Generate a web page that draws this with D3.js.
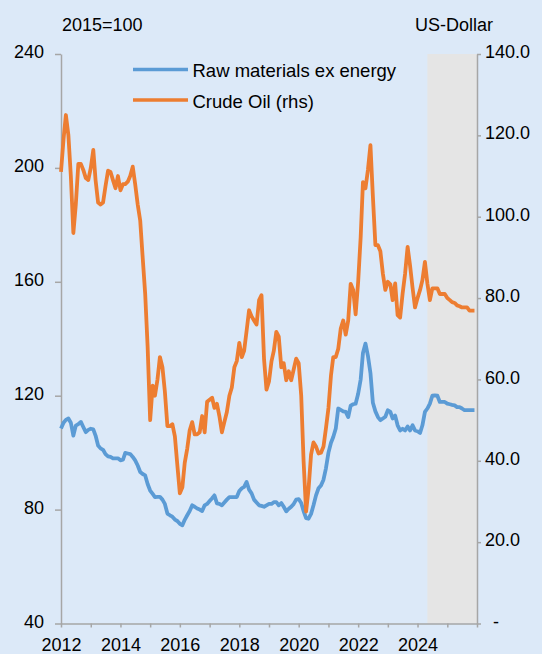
<!DOCTYPE html>
<html>
<head>
<meta charset="utf-8">
<script src="https://cdn.jsdelivr.net/npm/d3@7"></script>
<style>
	body { margin: 0; background: #dce9f8; }
	svg text { font-family: "Liberation Sans", Arial, sans-serif; font-size: 18px; fill: #000; }
</style>
</head>
<body>
<div id="chart"></div>
<script>
///////////////////////////////////////////////////////////////////////////
//////////////////////////// data /////////////////////////////////////////
///////////////////////////////////////////////////////////////////////////

const startYear = 2012;
const forecastStart = new Date(2024, 4, 1);

// monthly, Jan 2012 - Dec 2025, index 2015=100
const rawMaterials = [
	108.5, 110.5, 111.5, 112, 110.5, 106, 109.5, 110, 110.8, 109, 107.2, 108,
	108.4, 108.2, 106, 102.5, 101.5, 101, 99.5, 98.7, 98.5, 98, 98, 98,
	97.3, 97.5, 99.9, 99.7, 99.5, 98.5, 97.3, 95.5, 93.2, 92.5, 92, 89,
	86.7, 85.5, 84.4, 84.5, 84.5, 83.5, 82, 78.6, 78, 77.5, 76.5, 76,
	75, 74.5, 76.4, 78, 79.5, 81.5, 81, 80.4, 80, 79.5, 81.5, 82,
	83, 84, 85, 82.2, 82, 81.5, 82.5, 83.5, 84.4, 84.4, 84.4, 84.4,
	86.5, 87.5, 88, 89.7, 87, 85.7, 83.5, 82.5, 81.5, 81.3, 81, 81.5,
	82, 82, 82.6, 82.6, 81.5, 82.3, 81, 79.4, 80.3, 81, 82, 83.5,
	83.7, 82.3, 79.5, 77, 76.8, 78.5, 81.5, 85, 87.5, 88.5, 90.5, 94.5,
	100, 103.5, 105.5, 108.5, 115.5, 115, 114.5, 114.3, 112.5, 116.5, 117, 117.2,
	120.7, 125.7, 135, 138.3, 134, 128, 117.5, 114.5, 112.5, 111.4, 112, 112.6,
	114.9, 114.3, 112, 113, 109.6, 107.8, 108.4, 107.8, 109.2, 107.8, 109.6, 107.8,
	107.5, 106.9, 109.6, 114.3, 115.5, 117.2, 120, 120.1, 120, 117.8, 117.8, 117.8,
	117.2, 117, 116.8, 116.6, 116, 116, 115.5, 114.9, 114.9, 114.9, 114.9, 114.9
];

// monthly, Jan 2012 - Dec 2025, US-Dollar per barrel (rhs)
const crudeOil = [
	111, 119, 125, 120, 110, 96, 103, 113, 113, 111.5, 109.5, 109,
	112, 116.4, 109, 103.5, 103, 103.5, 107.5, 111.3, 111, 109, 107, 110,
	106.5, 108, 108, 108.6, 110, 112.3, 108, 103, 99, 90, 81, 68,
	50, 58.5, 56, 60, 65.5, 63, 57, 48.5, 48.5, 49, 46, 39,
	32, 33.5, 39.5, 43, 47.5, 49.5, 46.5, 46.5, 47, 51, 47, 54.5,
	55, 55.5, 53, 54, 51, 47, 49.5, 52, 56, 58, 63, 64.5,
	69, 65.5, 67, 72, 77, 75.5, 74.5, 73.5, 79.5, 80.7, 65, 57.5,
	59.5, 64.5, 67, 71.7, 70.5, 63, 64, 59.8, 62, 59.8, 62.5, 65.1,
	64, 56, 40, 27.5, 33, 41.5, 44.5, 43.5, 41.8, 42, 43.5, 48,
	53, 61, 65.5, 65.5, 67.5, 72.5, 74.5, 71, 74.5, 83.5, 82, 76,
	84, 95, 108.5, 107, 111.5, 117.6, 105, 93, 93, 91.5, 86, 82,
	84, 83.4, 79.5, 83.6, 75.8, 75.2, 81, 86, 92.6, 88, 82.5, 77.7,
	80, 82, 84.4, 88.9, 83.6, 79.5, 82.4, 82.4, 82.4, 81, 81, 81,
	80, 79.5, 79, 78.8, 78.2, 78, 77.7, 77.7, 77.7, 76.9, 76.9, 76.9
];

const seriesNames = ["Raw materials ex energy", "Crude Oil (rhs)"];
const leftTicks = [40, 80, 120, 160, 200, 240];
const rightTicks = [0, 20, 40, 60, 80, 100, 120, 140];

const months = rawMaterials.map((d, i) => new Date(startYear, i, 1));

///////////////////////////////////////////////////////////////////////////
//////////////////////////// Set up svg ///////////////////////////////////
///////////////////////////////////////////////////////////////////////////

const width = 542;
const height = 654;
const margin = { top: 54, right: 65, bottom: 30.5, left: 61 };
const blue = "#5b9bd5";
const orange = "#ed7d31";
const axisGrey = "#a6a6a6";

const svg = d3
	.select("#chart")
	.append("svg")
	.attr("width", width)
	.attr("height", height);

svg.append("rect")
	.attr("width", width)
	.attr("height", height)
	.attr("fill", "#dce9f8");

///////////////////////////////////////////////////////////////////////////
//////////////////////////// scales ///////////////////////////////////////
///////////////////////////////////////////////////////////////////////////

const x = d3
	.scaleTime()
	.domain([new Date(startYear, 0, 1), new Date(2026, 0, 1)])
	.range([margin.left, width - margin.right]);

const yLeft = d3
	.scaleLinear()
	.domain([40, 240])
	.range([height - margin.bottom, margin.top]);

const yRight = d3
	.scaleLinear()
	.domain([0, 140])
	.range([height - margin.bottom, margin.top]);

// forecast shading
svg.append("rect")
	.attr("x", x(forecastStart))
	.attr("y", margin.top)
	.attr("width", x.range()[1] - x(forecastStart))
	.attr("height", yLeft.range()[0] - margin.top)
	.attr("fill", "#e5e5e5");

///////////////////////////////////////////////////////////////////////////
//////////////////////////// axes /////////////////////////////////////////
///////////////////////////////////////////////////////////////////////////

const xAxis = d3
	.axisBottom(x)
	.ticks(d3.timeYear.every(1))
	.tickSize(4)
	.tickSizeOuter(0)
	.tickPadding(11)
	.tickFormat((d) => {
		const yr = d.getFullYear();
		return yr % 2 === 0 && yr < 2026 ? yr : "";
	});

svg.append("g")
	.attr("transform", "translate(0," + yLeft.range()[0] + ")")
	.call(xAxis);

svg.append("g")
	.attr("transform", "translate(" + margin.left + ",0)")
	.call(d3.axisLeft(yLeft).tickValues(leftTicks).tickSize(6).tickSizeOuter(0).tickPadding(11))
	.selectAll(".tick text")
	.attr("dy", "0.2em");

svg.append("g")
	.attr("transform", "translate(" + (width - margin.right) + ",0)")
	.call(
		d3.axisRight(yRight)
			.tickValues(rightTicks)
			.tickSize(4)
			.tickSizeOuter(0)
			.tickPadding(4)
			.tickFormat((d) => (d === 0 ? "-" : d3.format(".1f")(d)))
	)
	.selectAll(".tick text")
	.attr("dx", (d) => (d === 0 ? 8 : 0))
	.attr("dy", "0.2em");

svg.selectAll(".domain, .tick line")
	.attr("stroke", axisGrey)
	.attr("stroke-width", 1.5);

svg.selectAll(".tick text")
	.style("font-size", "18px")
	.style("font-family", "'Liberation Sans', Arial, sans-serif")
	.attr("fill", "#000");

// unit labels
svg.append("text").attr("x", 62).attr("y", 31).text("2015=100");
svg.append("text").attr("x", 415).attr("y", 31).text("US-Dollar");

///////////////////////////////////////////////////////////////////////////
//////////////////////////// lines ////////////////////////////////////////
///////////////////////////////////////////////////////////////////////////

const rawLine = d3
	.line()
	.x((d, i) => x(months[i]))
	.y((d) => yLeft(d));

const oilLine = d3
	.line()
	.x((d, i) => x(months[i]))
	.y((d) => yRight(d));

svg.append("path")
	.datum(rawMaterials)
	.attr("d", rawLine)
	.attr("fill", "none")
	.attr("stroke", blue)
	.attr("stroke-width", 3.8)
	.attr("stroke-linejoin", "round");

svg.append("path")
	.datum(crudeOil)
	.attr("d", oilLine)
	.attr("fill", "none")
	.attr("stroke", orange)
	.attr("stroke-width", 3.8)
	.attr("stroke-linejoin", "round");

///////////////////////////////////////////////////////////////////////////
//////////////////////////// legend ///////////////////////////////////////
///////////////////////////////////////////////////////////////////////////

const legend = svg
	.selectAll(".legend")
	.data(seriesNames)
	.enter()
	.append("g")
	.attr("class", "legend")
	.attr("transform", (d, i) => "translate(133,"+ (69.5 + i * 30.5) + ")");

legend.append("line")
	.attr("x1", 0)
	.attr("x2", 55)
	.attr("stroke", (d, i) => (i === 0 ? blue : orange))
	.attr("stroke-width", 3.5);

legend.append("text")
	.attr("x", 59.5)
	.attr("y", 7.5)
	.style("font-size", "18.5px")
	.text((d) => d);
</script>
</body>
</html>
